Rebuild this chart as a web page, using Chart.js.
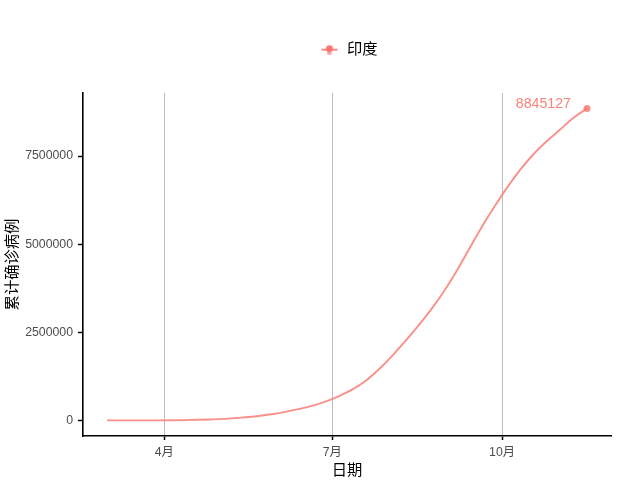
<!DOCTYPE html>
<html>
<head>
<meta charset="utf-8">
<script src="https://cdn.jsdelivr.net/npm/chart.js@4/dist/chart.umd.min.js"></script>
<style>
  html, body { margin: 0; padding: 0; background: #fff; }
</style>
</head>
<body>
<canvas id="chart" width="640" height="480"></canvas>
<script>
"use strict";

// series: India, cumulative confirmed cases (weekly readings)
const seriesName = "印度";
const dates = [
    "2020-03-01", "2020-03-08", "2020-03-15", "2020-03-22", "2020-03-29",
    "2020-04-05", "2020-04-12", "2020-04-19", "2020-04-26", "2020-05-03",
    "2020-05-10", "2020-05-17", "2020-05-24", "2020-05-31", "2020-06-07",
    "2020-06-14", "2020-06-21", "2020-06-28", "2020-07-05", "2020-07-12",
    "2020-07-19", "2020-07-26", "2020-08-02", "2020-08-09", "2020-08-16",
    "2020-08-23", "2020-08-30", "2020-09-06", "2020-09-13", "2020-09-20",
    "2020-09-27", "2020-10-04", "2020-10-11", "2020-10-18", "2020-10-25",
    "2020-11-01", "2020-11-08", "2020-11-15", "2020-11-16"
];
const cases = [
    3, 39, 113, 396, 1024,
    4289, 9205, 17265, 27890, 42533,
    67161, 95698, 138845, 190609, 257486,
    332424, 425282, 548318, 697413, 878254,
    1118043, 1435453, 1803695, 2215074, 2647663,
    3106348, 3621245, 4204613, 4846427, 5487580,
    6074702, 6623815, 7120538, 7550273, 7909959,
    8229313, 8553657, 8814579, 8845127
];

// axis ticks
const xTickDates = ["2020-04-01", "2020-07-01", "2020-10-01"];
const xTickLabels = ["4月", "7月", "10月"];
const yTickValues = [0, 2500000, 5000000, 7500000];
const xTitle = "日期";
const yTitle = "累计确诊病例";

const DAY = 86400000;
const t0 = Date.parse(dates[0]);
const toDay = d => Math.round((Date.parse(d) - t0) / DAY);

const points = dates.map((d, i) => ({ x: toDay(d), y: cases[i] }));
const xTicks = xTickDates.map(toDay);
const last = points.length - 1;

// ggplot-like 5% expansion of the data range
const xSpan = points[last].x - points[0].x;
const ySpan = Math.max(...cases) - Math.min(...cases);

const lineColor = "rgba(248,118,109,0.8)";
const keyColor = "#F8766D";
const fontFamily = "'Liberation Sans', 'Noto Sans CJK SC', sans-serif";
const tickFont = { family: fontFamily, size: 12.3 };
const titleFont = { family: fontFamily, size: 15.3 };

// legend key: line through a point, like the ggplot key
function makeKey() {
    const c = document.createElement("canvas");
    c.width = 20; c.height = 16;
    const g = c.getContext("2d");
    g.strokeStyle = keyColor;
    g.lineWidth = 1.7;
    g.beginPath(); g.moveTo(2, 8); g.lineTo(18, 8); g.stroke();
    g.fillStyle = keyColor;
    g.beginPath(); g.arc(10, 7, 3.5, 0, Math.PI * 2); g.fill();
    g.font = "bold 8px 'Liberation Sans'";
    g.textAlign = "center"; g.textBaseline = "middle";
    g.fillText("a", 10, 11);
    return c;
}

// fixed legend band height and shift it to centre over the panel
const legendTweak = {
    id: "legendTweak",
    afterInit(chart) {
        const lg = chart.legend;
        const fit = lg.fit;
        lg.fit = function () { fit.call(this); this.height = 93; };
        const draw = lg.draw;
        lg.draw = function () {
            const ctx = this.ctx;
            ctx.save();
            ctx.translate(43, 0);
            draw.call(this);
            ctx.restore();
        };
    }
};

// value label at the last point
const endLabel = {
    id: "endLabel",
    afterDatasetsDraw(chart) {
        const el = chart.getDatasetMeta(0).data[last];
        const ctx = chart.ctx;
        ctx.save();
        ctx.fillStyle = "rgba(248,118,109,0.9)";
        ctx.font = "14.2px 'Liberation Sans', sans-serif";
        ctx.textAlign = "right";
        ctx.textBaseline = "middle";
        ctx.fillText(String(cases[last]), el.x - 16, el.y - 4.5);
        ctx.restore();
    }
};

new Chart(document.getElementById("chart"), {
    type: "line",
    data: {
        datasets: [{
            label: seriesName,
            data: points,
            borderColor: lineColor,
            backgroundColor: lineColor,
            borderWidth: 1.9,
            cubicInterpolationMode: "monotone",
            pointRadius: ctx => ctx.dataIndex === last ? 3.5 : 0,
            pointBackgroundColor: lineColor,
            pointBorderWidth: 0,
            pointStyle: "circle"
        }]
    },
    options: {
        responsive: false,
        devicePixelRatio: 1,
        animation: false,
        layout: { padding: { left: 0, right: 29, top: 0, bottom: 0 } },
        plugins: {
            legend: {
                position: "top",
                labels: {
                    usePointStyle: true,
                    pointStyle: makeKey(),
                    pointStyleWidth: 20,
                    boxHeight: 14,
                    padding: 42,
                    color: "#000",
                    font: titleFont
                }
            },
            tooltip: { enabled: false }
        },
        scales: {
            x: {
                type: "linear",
                min: points[0].x - xSpan * 0.05,
                max: points[last].x + xSpan * 0.05,
                afterBuildTicks: s => { s.ticks = xTicks.map(v => ({ value: v })); },
                afterFit: s => { s.height = 44; },
                grid: {
                    color: "#BEBEBE",
                    lineWidth: 1,
                    tickColor: "#000",
                    tickLength: 4,
                    tickWidth: 1.5
                },
                border: { color: "#000", width: 1.6 },
                ticks: {
                    color: "#4D4D4D",
                    font: tickFont,
                    padding: 5,
                    maxRotation: 0,
                    callback: v => xTickLabels[xTicks.indexOf(v)]
                },
                title: {
                    display: true,
                    text: xTitle,
                    color: "#000",
                    font: titleFont,
                    padding: { top: 0, bottom: 0 }
                }
            },
            y: {
                type: "linear",
                min: Math.min(...cases) - ySpan * 0.05,
                max: Math.max(...cases) + ySpan * 0.05,
                afterBuildTicks: s => { s.ticks = yTickValues.map(v => ({ value: v })); },
                afterFit: s => { s.width = 83; },
                grid: {
                    drawOnChartArea: false,
                    tickColor: "#000",
                    tickLength: 5,
                    tickWidth: 1.5
                },
                border: { color: "#000", width: 1.6 },
                ticks: {
                    color: "#4D4D4D",
                    font: tickFont,
                    padding: 5,
                    callback: v => String(v)
                },
                title: {
                    display: true,
                    text: yTitle,
                    color: "#000",
                    font: titleFont,
                    padding: { top: 4, bottom: 0 }
                }
            }
        }
    },
    plugins: [legendTweak, endLabel]
});
</script>
</body>
</html>
